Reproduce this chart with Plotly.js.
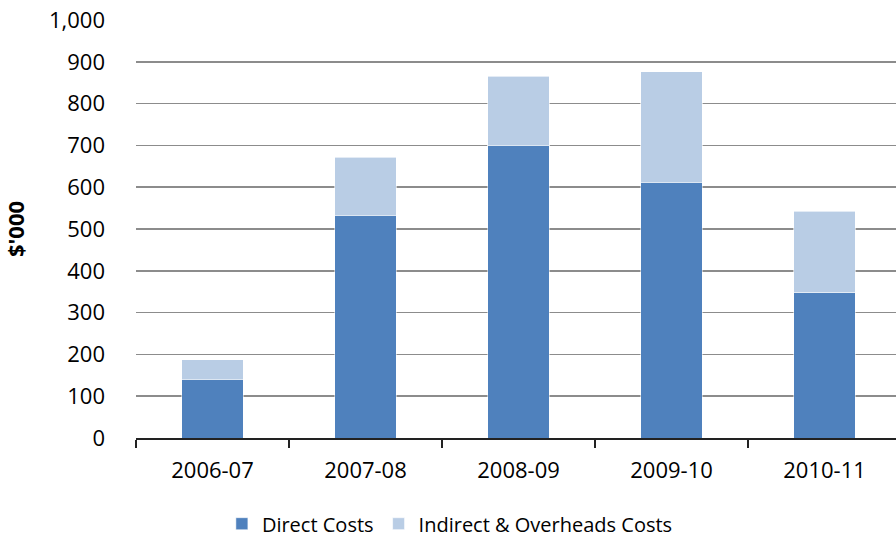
<!DOCTYPE html>
<html>
<head>
<meta charset="utf-8">
<script src="https://cdn.plot.ly/plotly-3.0.1.min.js"></script>
<style>html,body{margin:0;padding:0;background:#fff;}#chart{width:896px;height:539px;}</style>
</head>
<body>
<div id="chart"></div>
<script>
var categories = ["2006-07", "2007-08", "2008-09", "2009-10", "2010-11"];
var directCosts = [141, 533, 700, 612, 347];
var indirectCosts = [46, 139, 166, 264, 196];
var yTickVals = [0, 100, 200, 300, 400, 500, 600, 700, 800, 900, 1000];
var yTickText = ["0", "100", "200", "300", "400", "500", "600", "700", "800", "900", "1,000"];

var font = "Open Sans, Noto Sans, sans-serif";
var traces = [
  {type: "bar", name: "Direct Costs", x: categories, y: directCosts,
   marker: {color: "#4F81BD", line: {color: "rgba(255,255,255,0.5)", width: 1}}, width: 0.4},
  {type: "bar", name: "Indirect & Overheads Costs", x: categories, y: indirectCosts,
   marker: {color: "#B9CDE5", line: {color: "rgba(255,255,255,0.6)", width: 1}}, width: 0.4}
];
var layout = {
  width: 896, height: 539,
  margin: {l: 136, r: 0, t: 20, b: 101, autoexpand: false},
  barmode: "stack",
  paper_bgcolor: "#fff", plot_bgcolor: "#fff",
  font: {family: font, size: 22, color: "#000"},
  showlegend: true,
  legend: {orientation: "h", x: 0.413, xanchor: "center", y: -0.205, yanchor: "middle",
           font: {family: font, size: 20, color: "#000"}, itemwidth: 30, traceorder: "normal",
           tracegroupgap: 0},
  xaxis: {type: "category", range: [-0.5, 4.467], showgrid: false, automargin: false,
          showline: true, linecolor: "#222", linewidth: 1.5,
          ticks: "outside", tickson: "boundaries", ticklen: 8, tickcolor: "#222", tickwidth: 1.5,
          tickfont: {family: font, size: 22, color: "#000"}, ticklabelstandoff: 12},
  yaxis: {range: [0, 1000], tickvals: yTickVals, ticktext: yTickText, automargin: false,
          showgrid: true, gridcolor: "#8c8c8c", gridwidth: 1.5, zeroline: false, showline: false,
          ticks: "", ticklabelstandoff: 30,
          tickfont: {family: font, size: 22, color: "#000"},
          title: {text: "<b>$'000</b>", font: {family: font, size: 22, color: "#000"}, standoff: 20}}
};
Plotly.newPlot("chart", traces, layout, {displayModeBar: false, staticPlot: true});
</script>
</body>
</html>
